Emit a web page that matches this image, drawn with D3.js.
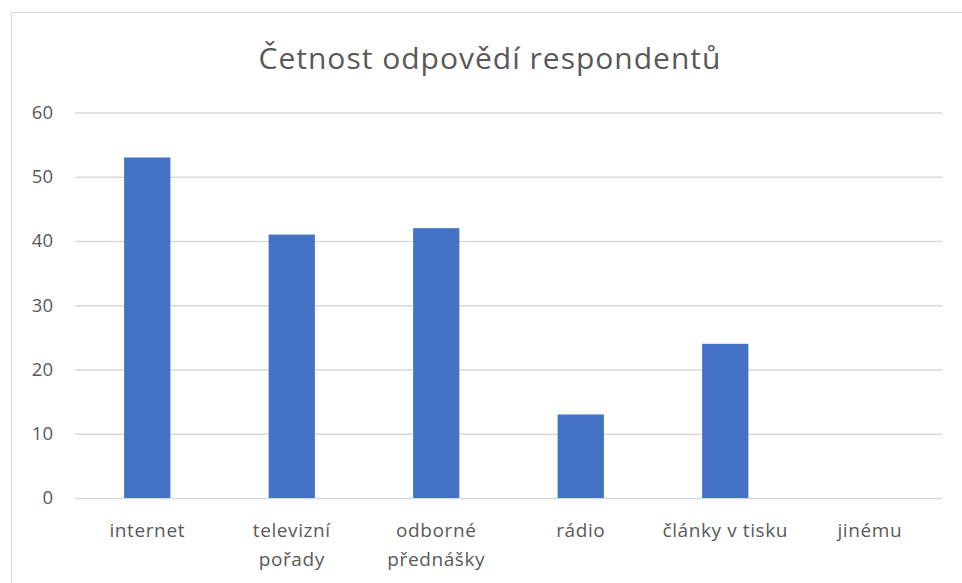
<!DOCTYPE html>
<html><head><meta charset="utf-8">
<script src="https://cdn.jsdelivr.net/npm/d3@7"></script>
<style>body{margin:0;background:#fff}svg{display:block}</style>
</head><body>
<script>
const title = "Četnost odpovědí respondentů";
const categories = ["internet", "televizní pořady", "odborné přednášky", "rádio", "články v tisku", "jinému"];
const categoryLines = [["internet"], ["televizní", "pořady"], ["odborné", "přednášky"], ["rádio"], ["články v tisku"], ["jinému"]];
const values = [53, 41, 42, 13, 24, 0];
const yTicks = [0, 10, 20, 30, 40, 50, 60];

const W = 962, H = 583;
const font = "'Open Sans', Lato, sans-serif";
const svg = d3.select("body").append("svg").attr("width", W).attr("height", H);

svg.append("rect").attr("x", 11.5).attr("y", 12.5).attr("width", 960).attr("height", 600)
  .attr("fill", "#fff").attr("stroke", "#d9d9d9").attr("stroke-width", 1);

const x = d3.scaleBand().domain(categories).range([75, 942]).paddingInner(0.68).paddingOuter(0.34);
const y = d3.scaleLinear().domain([0, 60]).range([498, 112.5]);

svg.append("text").attr("x", 490).attr("y", 69).attr("text-anchor", "middle")
  .attr("font-family", font).attr("font-size", 30).attr("letter-spacing", 1)
  .attr("fill", "#595959").text(title);

const yAxis = svg.append("g").attr("transform", "translate(75,0)")
  .call(d3.axisLeft(y).tickValues(yTicks).tickSize(-(942 - 75)).tickPadding(22));
yAxis.select(".domain").remove();
yAxis.selectAll(".tick line").attr("stroke", "#d9d9d9").attr("stroke-width", 1.5);
yAxis.selectAll(".tick text").attr("font-family", font).attr("font-size", 18.5).attr("fill", "#595959");

svg.append("g").selectAll("rect").data(values).join("rect")
  .attr("x", (d, i) => x(categories[i]))
  .attr("width", x.bandwidth())
  .attr("y", d => y(d))
  .attr("height", d => y(0) - y(d))
  .attr("fill", "#4472C4");

const xAxis = svg.append("g").attr("transform", "translate(0,498)")
  .call(d3.axisBottom(x).tickSize(0).tickPadding(0));
xAxis.select(".domain").remove();
xAxis.selectAll(".tick text").each(function(d, i) {
  const t = d3.select(this).text(null).attr("y", 0).attr("dy", null)
    .attr("font-family", font).attr("font-size", 19).attr("letter-spacing", 0.6).attr("fill", "#595959");
  categoryLines[i].forEach((line, j) => {
    t.append("tspan").attr("x", 0).attr("y", 39 + j * 29).text(line);
  });
});
</script>
</body></html>
